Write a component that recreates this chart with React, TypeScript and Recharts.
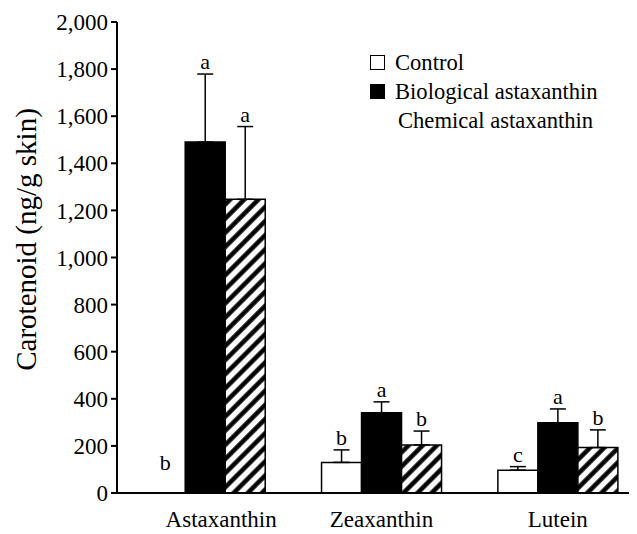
import { BarChart, Bar, XAxis, YAxis, ErrorBar, LabelList, Legend, ReferenceLine } from 'recharts';

const categories = ['Astaxanthin', 'Zeaxanthin', 'Lutein'];
const seriesNames = ['Control', 'Biological astaxanthin', 'Chemical astaxanthin'];

const controlValues = [0, 130, 97];
const controlErrors = [0, 53, 15];
const controlLetters = ['b', 'b', 'c'];

const biologicalValues = [1490, 341, 298];
const biologicalErrors = [289, 46, 59];
const biologicalLetters = ['a', 'a', 'a'];

const chemicalValues = [1247, 204, 193];
const chemicalErrors = [309, 59, 75];
const chemicalLetters = ['a', 'b', 'b'];

const yTicks = [0, 200, 400, 600, 800, 1000, 1200, 1400, 1600, 1800, 2000];
// positions between the categories, on a 0..3 scale spanning the x axis
const boundaries = [1, 2];

const font = 'Liberation Serif, Tinos, DejaVu Serif, serif';
const boundaryTickLength = 25; // in y units, about 6px

const data = categories.map((name, i) => ({
  name,
  control: controlValues[i],
  controlErr: controlErrors[i],
  controlLetter: controlLetters[i],
  biological: biologicalValues[i],
  biologicalErr: biologicalErrors[i],
  biologicalLetter: biologicalLetters[i],
  chemical: chemicalValues[i],
  chemicalErr: chemicalErrors[i],
  chemicalLetter: chemicalLetters[i],
}));

// letter sits just above the error bar cap
const letterLabel = (props: any) => {
  const { x, y, width, value } = props;
  return (
    <text x={x + width / 2} y={y - 5} textAnchor="middle" fontSize={22} fontFamily={font} fill="#000">
      {value}
    </text>
  );
};

// an empty bar still gets a little room so its letter floats above the baseline
const emptyLift = (v: number) => (v === 0 ? 18 : 0);

// the first category label sits a bit right of its group in the original
const CategoryTick = (props: any) => {
  const { x, y, payload, index } = props;
  return (
    <text x={x + (index === 0 ? 16 : 0)} y={y} dy="0.71em" textAnchor="middle" fontSize={23} fontFamily={font} fill="#000">
      {payload.value}
    </text>
  );
};

const renderLegend = () => (
  <div style={{ fontFamily: font, fontSize: 22.6, lineHeight: '29px', color: '#000' }}>
    {seriesNames.map((name, i) => (
      <div key={name} style={{ display: 'flex', alignItems: 'center', whiteSpace: 'nowrap' }}>
        <span
          style={{
            display: 'inline-block',
            width: 15,
            height: 15,
            boxSizing: 'border-box',
            border: i < 2 ? '1.5px solid #000' : 'none',
            background: i === 1 ? '#000' : '#fff',
            marginRight: i === 2 ? 13 : 10,
          }}
        />
        {name}
      </div>
    ))}
  </div>
);

const yLabel = (props: any) => {
  const { viewBox } = props;
  const cx = viewBox.x + 18;
  const cy = viewBox.y + viewBox.height / 2 - 18;
  return (
    <text
      x={cx}
      y={cy}
      transform={`rotate(-90, ${cx}, ${cy})`}
      textAnchor="middle"
      dominantBaseline="central"
      fontSize={29}
      fontFamily={font}
      fill="#000"
    >
      Carotenoid (ng/g skin)
    </text>
  );
};

export default function App() {
  return (
    <div style={{ width: 629, height: 526, overflow: 'hidden' }}>
      <BarChart
        width={640}
        height={526}
        data={data}
        margin={{ top: 14, right: 2, bottom: 0, left: 0 }}
        barCategoryGap="16%"
        barGap={0}
      >
        <defs>
          <pattern id="hatch" patternUnits="userSpaceOnUse" width={10} height={10} patternTransform="rotate(45)">
            <rect width={10} height={10} fill="#fff" />
            <line x1={2.5} y1={0} x2={2.5} y2={10} stroke="#000" strokeWidth={4.5} />
          </pattern>
        </defs>
        <XAxis xAxisId="bounds" type="number" domain={[0, 3]} hide />
        <XAxis
          dataKey="name"
          height={41}
          axisLine={{ stroke: '#000', strokeWidth: 2 }}
          tickLine={false}
          tickSize={0}
          tickMargin={18}
          tick={<CategoryTick />}
        />
        <YAxis
          width={109}
          domain={[0, 2000]}
          ticks={yTicks}
          interval={0}
          tickFormatter={(v: number) => v.toLocaleString('en-US')}
          axisLine={{ stroke: '#000', strokeWidth: 2 }}
          tickLine={{ stroke: '#000', strokeWidth: 2 }}
          tickSize={6}
          tickMargin={3}
          tick={{ fill: '#000', fontSize: 23, fontFamily: font }}
          label={yLabel}
        />
        <Legend
          layout="vertical"
          align="center"
          verticalAlign="middle"
          content={renderLegend}
          wrapperStyle={{ top: 40, left: 362, width: 260 }}
        />
        {boundaries.map((b) => (
          <ReferenceLine
            key={b}
            xAxisId="bounds"
            segment={[{ x: b, y: 0 }, { x: b, y: boundaryTickLength }]}
            stroke="#000"
            strokeWidth={1.5}
          />
        ))}
        <Bar dataKey="control" stackId="c" fill="#fff" stroke="#000" strokeWidth={1.5} isAnimationActive={false}>
          <ErrorBar dataKey={(d: any) => [0, d.controlErr]} width={8} stroke="#000" strokeWidth={1.5} />
        </Bar>
        <Bar dataKey="controlErr" stackId="c" fill="none" legendType="none" minPointSize={emptyLift} isAnimationActive={false}>
          <LabelList dataKey="controlLetter" content={letterLabel} />
        </Bar>
        <Bar dataKey="biological" stackId="b" fill="#000" stroke="#000" strokeWidth={1.5} isAnimationActive={false}>
          <ErrorBar dataKey={(d: any) => [0, d.biologicalErr]} width={8} stroke="#000" strokeWidth={1.5} />
        </Bar>
        <Bar dataKey="biologicalErr" stackId="b" fill="none" legendType="none" minPointSize={emptyLift} isAnimationActive={false}>
          <LabelList dataKey="biologicalLetter" content={letterLabel} />
        </Bar>
        <Bar dataKey="chemical" stackId="h" fill="url(#hatch)" stroke="#000" strokeWidth={1.5} isAnimationActive={false}>
          <ErrorBar dataKey={(d: any) => [0, d.chemicalErr]} width={8} stroke="#000" strokeWidth={1.5} />
        </Bar>
        <Bar dataKey="chemicalErr" stackId="h" fill="none" legendType="none" minPointSize={emptyLift} isAnimationActive={false}>
          <LabelList dataKey="chemicalLetter" content={letterLabel} />
        </Bar>
      </BarChart>
    </div>
  );
}
